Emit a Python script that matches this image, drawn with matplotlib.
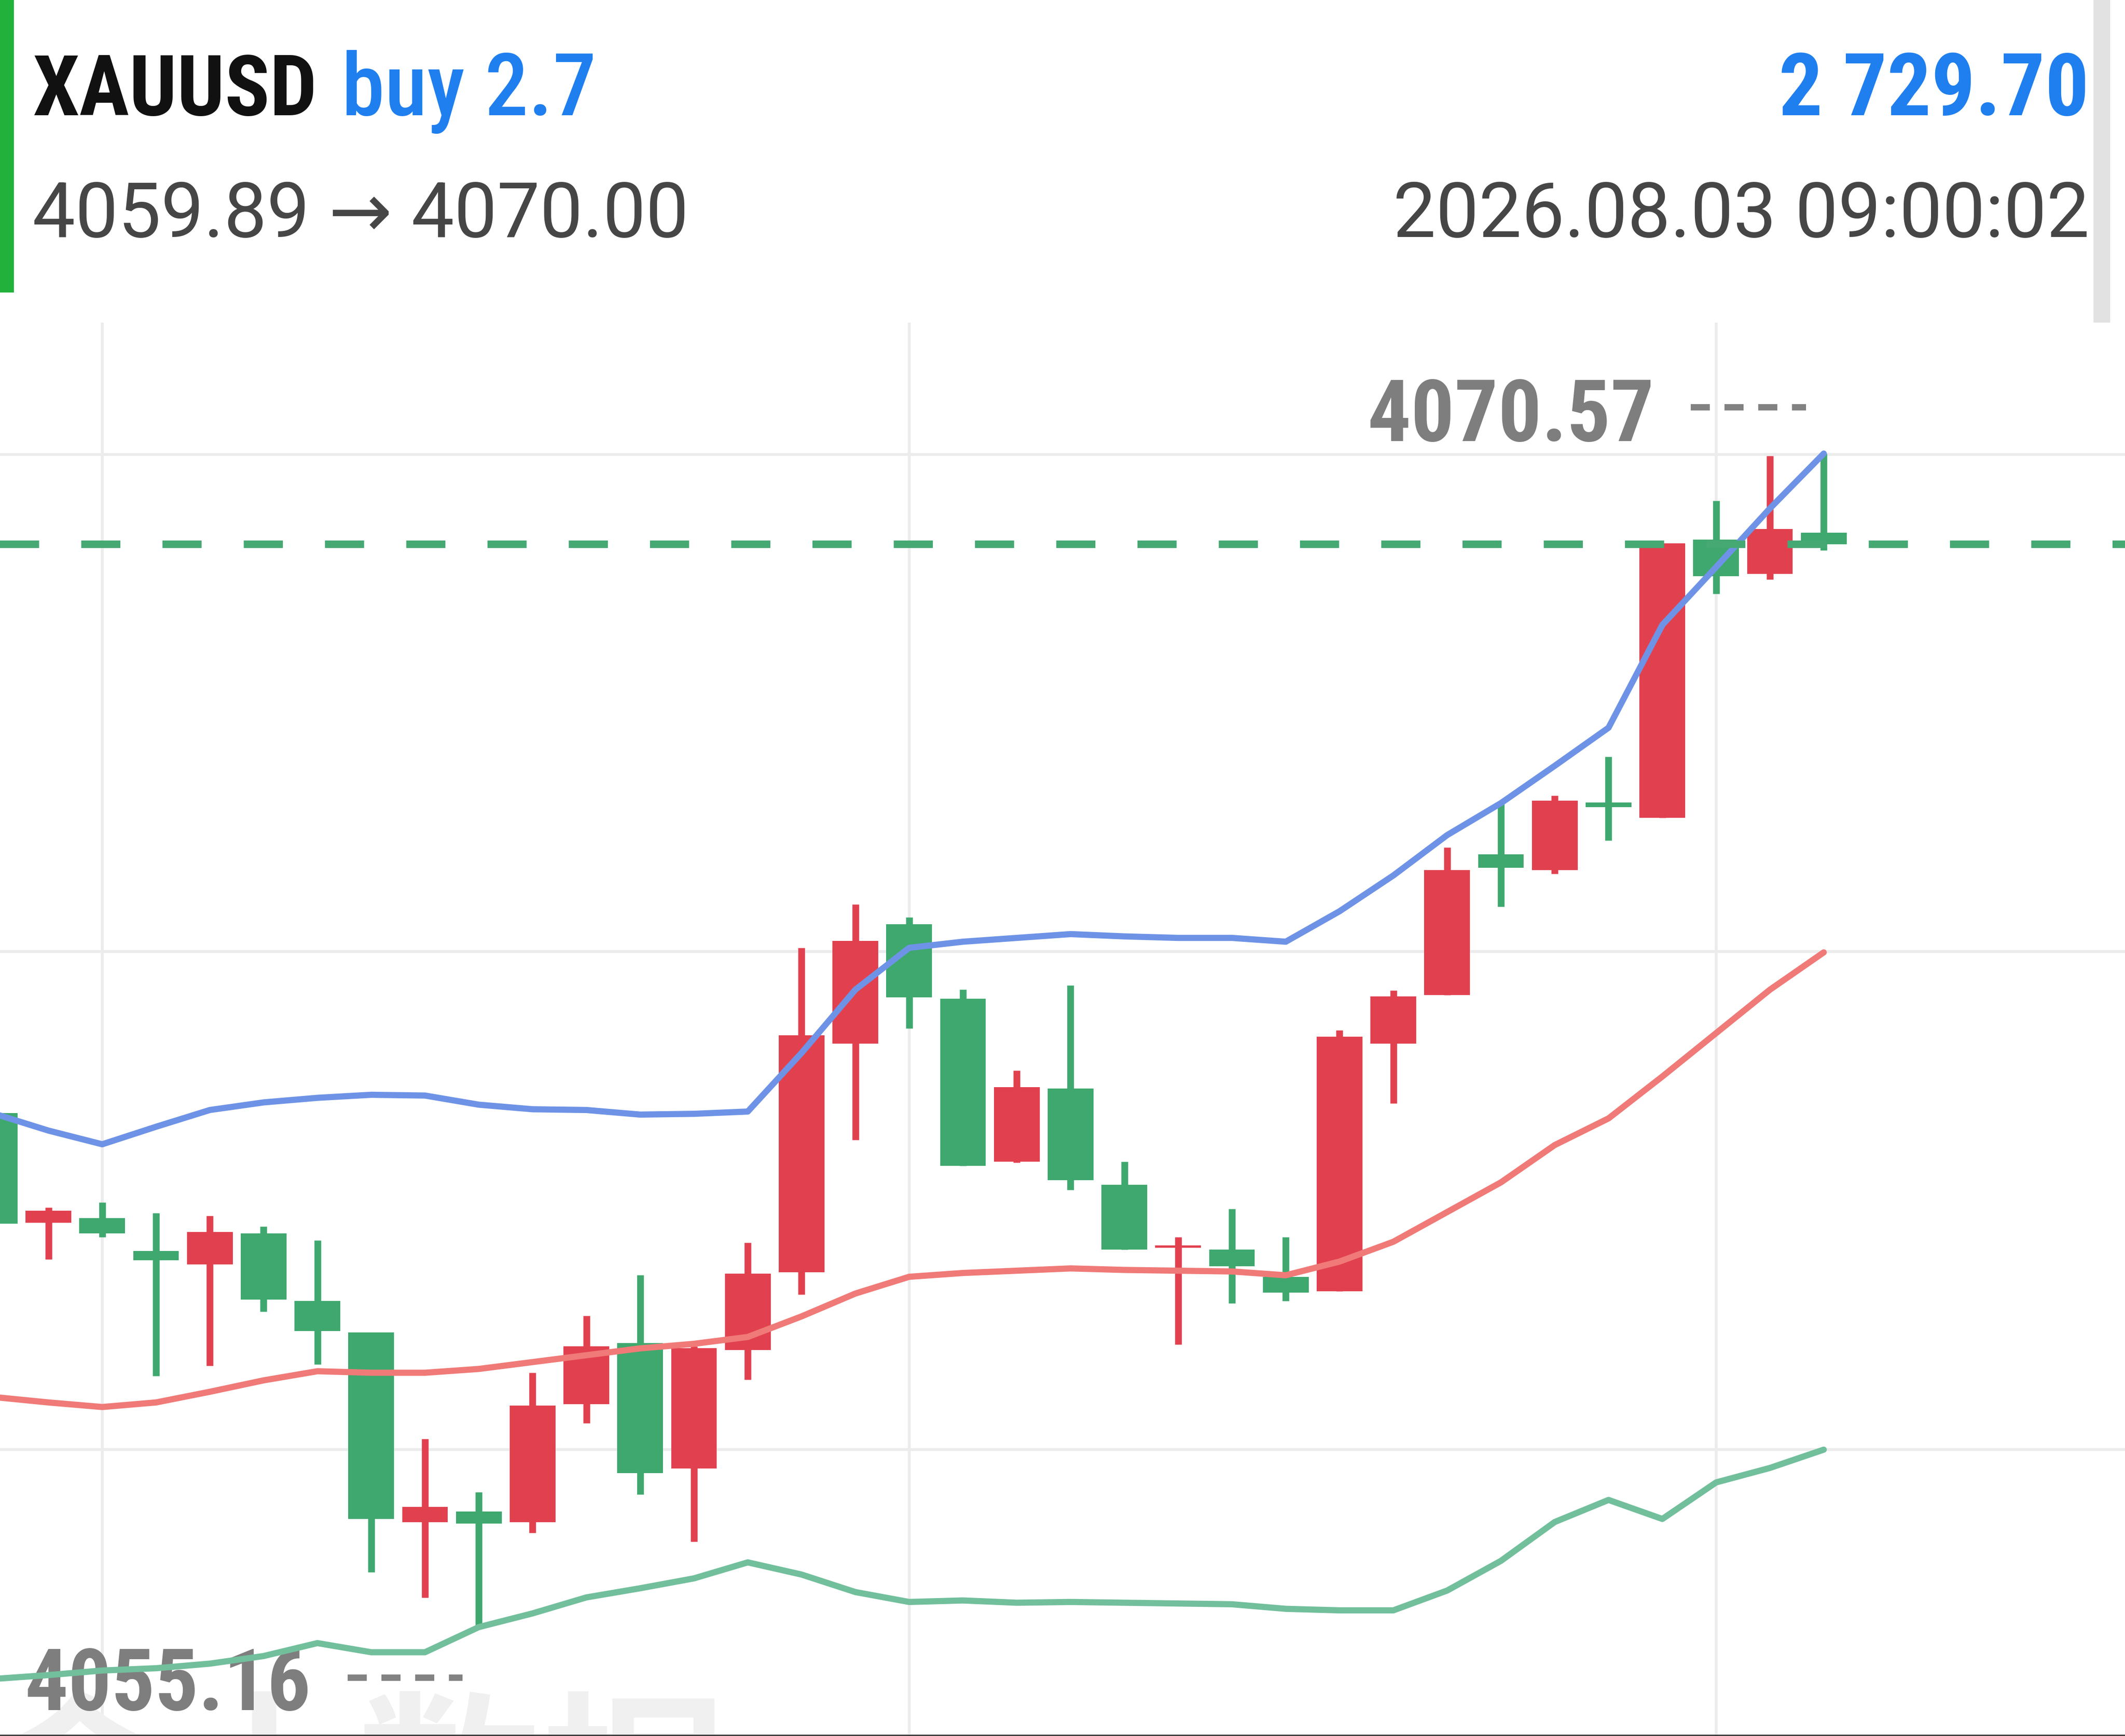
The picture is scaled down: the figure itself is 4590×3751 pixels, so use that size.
import os
import matplotlib
matplotlib.use("Agg")
import matplotlib.pyplot as plt
from matplotlib import font_manager, transforms
from matplotlib.font_manager import FontProperties
from matplotlib.lines import Line2D
from matplotlib.patches import Rectangle
import numpy as np

# ---------------- data ----------------
opens = [4061.91, 4060.47, 4060.53, 4060.10, 4059.92, 4060.33, 4059.44, 4059.03, 4056.54, 4056.68,
         4056.54, 4058.09, 4058.89, 4057.24, 4058.80, 4059.82, 4062.82, 4064.39, 4063.41, 4061.27,
         4062.23, 4060.97, 4060.14, 4060.12, 4059.76, 4059.57, 4062.82, 4063.46, 4065.31, 4065.10,
         4065.99, 4065.79, 4069.44, 4068.99, 4069.53]
highs = [4061.91, 4060.67, 4060.74, 4060.60, 4060.56, 4060.42, 4060.24, 4059.03, 4057.63, 4056.93,
         4058.50, 4059.25, 4059.78, 4058.85, 4060.21, 4064.08, 4064.65, 4064.48, 4063.53, 4062.47,
         4063.59, 4061.27, 4060.28, 4060.65, 4060.28, 4063.00, 4063.52, 4065.40, 4065.97, 4066.08,
         4066.59, 4069.39, 4069.95, 4070.54, 4070.57]
lows = [4060.46, 4059.99, 4060.28, 4058.46, 4058.59, 4059.30, 4058.61, 4055.88, 4055.55, 4055.16,
        4056.40, 4057.84, 4056.90, 4056.28, 4058.41, 4059.53, 4061.56, 4063.02, 4061.22, 4061.26,
        4060.90, 4060.12, 4058.87, 4059.41, 4059.44, 4059.57, 4062.04, 4063.46, 4064.62, 4065.05,
        4065.49, 4065.79, 4068.73, 4068.92, 4069.30]
closes = [4060.46, 4060.63, 4060.33, 4059.98, 4060.35, 4059.46, 4059.05, 4056.58, 4056.74, 4056.52,
          4058.07, 4058.85, 4057.18, 4058.82, 4059.80, 4062.93, 4064.17, 4063.43, 4061.22, 4062.25,
          4061.03, 4060.12, 4060.16, 4059.90, 4059.55, 4062.91, 4063.44, 4065.10, 4065.13, 4066.01,
          4065.93, 4069.39, 4068.96, 4069.58, 4069.38]

boll_upper = [4061.90, 4061.68, 4061.50, 4061.73, 4061.95, 4062.05, 4062.11, 4062.15, 4062.14, 4062.02,
              4061.96, 4061.95, 4061.89, 4061.90, 4061.93, 4062.70, 4063.53, 4064.08, 4064.16, 4064.21,
              4064.26, 4064.23, 4064.21, 4064.21, 4064.16, 4064.56, 4065.03, 4065.56, 4065.98, 4066.47,
              4066.97, 4068.32, 4069.08, 4069.85, 4070.57]
boll_mid = [4058.18, 4058.11, 4058.05, 4058.11, 4058.25, 4058.40, 4058.52, 4058.50, 4058.50, 4058.55,
            4058.64, 4058.73, 4058.82, 4058.88, 4058.97, 4059.24, 4059.54, 4059.76, 4059.81, 4059.84,
            4059.87, 4059.85, 4059.84, 4059.83, 4059.78, 4059.96, 4060.22, 4060.61, 4061.00, 4061.49,
            4061.84, 4062.39, 4062.96, 4063.53, 4064.02]
boll_lower = [4054.48, 4054.53, 4054.59, 4054.62, 4054.68, 4054.78, 4054.95, 4054.83, 4054.83, 4055.16,
              4055.34, 4055.55, 4055.67, 4055.80, 4056.01, 4055.85, 4055.62, 4055.49, 4055.51, 4055.48,
              4055.49, 4055.48, 4055.47, 4055.46, 4055.40, 4055.38, 4055.38, 4055.64, 4056.03, 4056.54,
              4056.83, 4056.58, 4057.06, 4057.25, 4057.49]

grid_levels = [4070.56, 4064.03, 4057.49]
vgrid_idx = [2, 17, 32]

symbol = "XAUUSD"
side_text = "buy 2.7"
profit_text = "2 729.70"
price_path = "4059.89 \u2192 4070.00"
timestamp = "2026.08.03 09:00:02"
watermark = "金十数据"

# ---------------- style ----------------
UP = "#e1414f"
DOWN = "#3fa86e"
C_UPPER = "#6e93e6"
C_MID = "#f07a77"
C_LOWER = "#72bf9c"
C_GRID = "#ececec"
BLUE = "#1f7fef"

names = {f.name for f in font_manager.fontManager.ttflist}
REG = "Roboto" if "Roboto" in names else "DejaVu Sans"
CJK = "Noto Sans CJK SC"

# ---- find a condensed face if one is installed ----
def _weight(f):
    w = f.weight
    if isinstance(w, str):
        w = {"ultralight": 200, "light": 300, "normal": 400, "regular": 400, "book": 400,
             "medium": 500, "semibold": 600, "demibold": 600, "bold": 700,
             "heavy": 800, "extra bold": 800, "black": 900}.get(w.lower(), 400)
    return w

def _is_cond(f):
    s = (str(f.stretch) + " " + f.name + " " + os.path.basename(f.fname)).lower()
    bad = ("extra" in s or "ultra" in s or "semi" in s)
    return ("condensed" in s or "narrow" in s) and not bad

def _is_italic(f):
    b = os.path.basename(f.fname).lower()
    return f.style != "normal" or "italic" in b or "oblique" in b

PREF = ["roboto", "liberation", "noto", "open", "dejavu", "lato", "inter"]
conds = [f for f in font_manager.fontManager.ttflist
         if _is_cond(f) and not _is_italic(f) and f.fname.lower().endswith((".ttf", ".otf"))]

def _rank(f):
    n = f.name.lower()
    for i, p in enumerate(PREF):
        if n.startswith(p):
            return i
    return len(PREF)

def cond_font(target_weight):
    if not conds:
        return FontProperties(family=REG, weight="bold" if target_weight >= 600 else "medium")
    best = sorted(conds, key=lambda f: (_rank(f), abs(_weight(f) - target_weight)))[0]
    return FontProperties(fname=best.fname)

FP_BOLD = cond_font(700)
FP_MED = cond_font(500)

W, H = 4590, 3751
DPI = 300
fig = plt.figure(figsize=(W / DPI, H / DPI), dpi=DPI)
fig.patch.set_facecolor("white")
renderer = fig.canvas.get_renderer()

def fx(px):
    return px / W

def fy(px_from_top):
    return 1 - px_from_top / H

def fit(t, target_px, max_pt):
    w = t.get_window_extent(renderer).width
    s = t.get_fontsize() * target_px / max(w, 1)
    t.set_fontsize(min(s, max_pt))

chart_top_px = 697
ax = fig.add_axes([0, 0, 1, fy(chart_top_px)])
ax.set_facecolor("white")
for s in ax.spines.values():
    s.set_visible(False)
ax.set_xticks([])
ax.set_yticks([])

n = len(opens)
x = np.arange(n)
o = np.array(opens); c = np.array(closes); h = np.array(highs); l = np.array(lows)
up = c >= o
colors = np.where(up, UP, DOWN)

ax.set_xlim(0.10, 39.60)
ax.set_ylim(4053.73, 4072.29)

# grid
for g in grid_levels:
    ax.axhline(g, color=C_GRID, lw=1.5, zorder=0.5)
for vi in vgrid_idx:
    ax.axvline(vi, color=C_GRID, lw=1.5, zorder=0.5)

# watermark (only its top shows at the bottom edge)
ax.text(fx(-30), fy(3994), watermark, transform=fig.transFigure, fontsize=96,
        family=[CJK, "DejaVu Sans"], weight="bold", color="#f0f0f0",
        ha="left", va="baseline", clip_on=False, zorder=0.6)

# candles
ax.vlines(x, l, h, colors=colors, lw=3.5, zorder=2)
bottoms = np.minimum(o, c)
heights = np.maximum(np.abs(c - o), 0.03)
ax.bar(x, heights, bottom=bottoms, width=0.85, color=colors, linewidth=0, zorder=2.1)

# max / min labels
imax = int(np.argmax(h)); imin = int(np.argmin(l))
lab_kw = dict(fontproperties=FP_BOLD, color="#7e7e7e", ha="right", va="baseline", zorder=2.5)
t_max = ax.text(imax - 3.15, h[imax], f"{h[imax]:.2f}",
                transform=transforms.offset_copy(ax.transData, fig, y=27, units="dots"), **lab_kw)
t_min = ax.text(imin - 3.12, l[imin], f"{l[imin]:.2f}",
                transform=transforms.offset_copy(ax.transData, fig, y=-179, units="dots"), **lab_kw)
t_max.set_fontsize(47); t_min.set_fontsize(47)
fit(t_max, 620, 48)
fit(t_min, 618, 48)
dash_kw = dict(color="#828282", lw=3.3, dashes=(3.0, 2.3), solid_capstyle="butt",
               dash_capstyle="butt", zorder=2.5)
ax.plot([imax - 2.47, imax - 0.33], [h[imax]] * 2,
        transform=transforms.offset_copy(ax.transData, fig, y=100, units="dots"), **dash_kw)
ax.plot([imin - 2.44, imin - 0.30], [l[imin]] * 2,
        transform=transforms.offset_copy(ax.transData, fig, y=-109, units="dots"), **dash_kw)

# bollinger bands
band_kw = dict(lw=3.2, solid_joinstyle="round", solid_capstyle="round", zorder=3)
ax.plot(x, boll_upper, color=C_UPPER, **band_kw)
ax.plot(x, boll_mid, color=C_MID, **band_kw)
ax.plot(x, boll_lower, color=C_LOWER, **band_kw)

# current price dashed line
ax.axhline(c[-1], color="#46a873", lw=3.9, dashes=(5.2, 5.6), zorder=4)

# ---------------- header ----------------
fig.add_artist(Rectangle((0, fy(632)), fx(30), 632 / H, transform=fig.transFigure,
                         color="#22b23b", lw=0))
fig.add_artist(Rectangle((fx(4522), fy(697)), fx(36), 697 / H, transform=fig.transFigure,
                         color="#e2e2e2", lw=0))

t1 = fig.text(fx(70), fy(249), symbol, fontproperties=FP_BOLD, color="#111111",
              ha="left", va="baseline")
t2 = fig.text(fx(738), fy(249), side_text, fontproperties=FP_MED, color=BLUE,
              ha="left", va="baseline")
t3 = fig.text(fx(4513), fy(249), profit_text, fontproperties=FP_BOLD, color=BLUE,
              ha="right", va="baseline")
for t in (t1, t2, t3):
    t.set_fontsize(49)
fit(t1, 615, 50)
fit(t2, 550, 50)
fit(t3, 670, 50)

fig.text(fx(70), fy(512), price_path, family=[REG, "DejaVu Sans"], fontsize=39.5,
         color="#464646", ha="left", va="baseline")
fig.text(fx(4513), fy(512), timestamp, family=[REG, "DejaVu Sans"], fontsize=39.5,
         color="#464646", ha="right", va="baseline")

# bottom border
fig.add_artist(Line2D([0, 1], [0.0004, 0.0004], transform=fig.transFigure, color="#222222", lw=0.6))

fig.savefig("out.png", dpi=DPI, facecolor="white")
